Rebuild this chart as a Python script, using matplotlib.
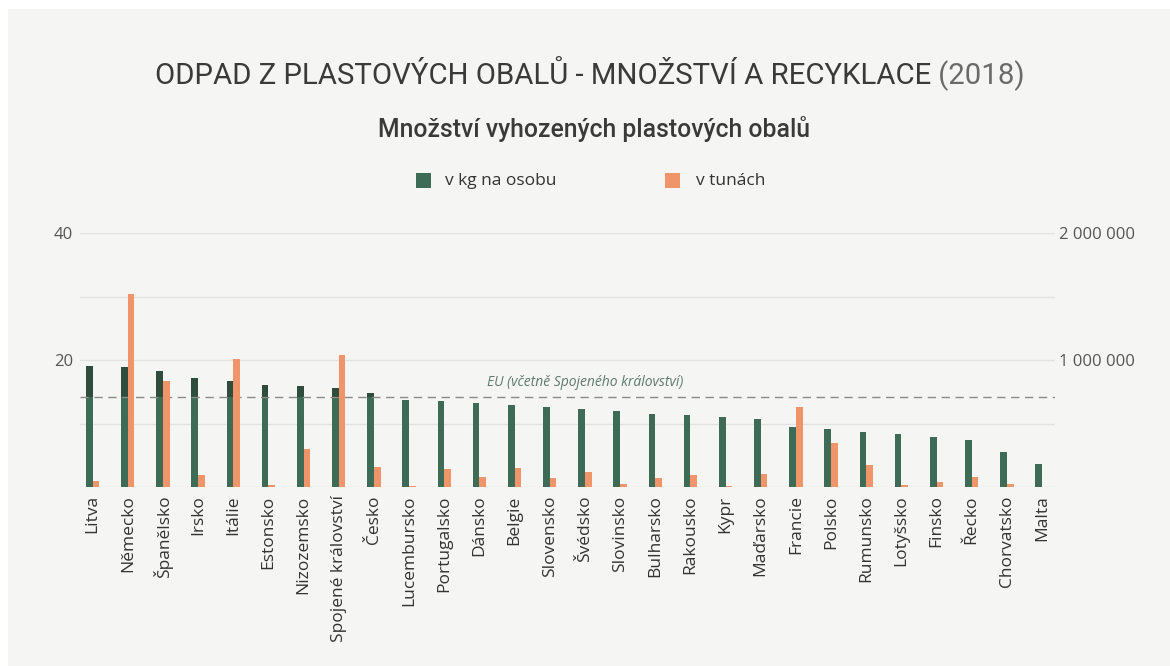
import matplotlib.pyplot as plt
import matplotlib.patches as mpatches
import numpy as np

countries = ['Litva', 'Německo', 'Španělsko', 'Irsko', 'Itálie', 'Estonsko', 'Nizozemsko',
             'Spojené království', 'Česko', 'Lucembursko', 'Portugalsko', 'Dánsko', 'Belgie',
             'Slovensko', 'Švédsko', 'Slovinsko', 'Bulharsko', 'Rakousko', 'Kypr', 'Maďarsko',
             'Francie', 'Polsko', 'Rumunsko', 'Lotyšsko', 'Finsko', 'Řecko', 'Chorvatsko', 'Malta']
kg_per_person = [19.05, 18.85, 18.2, 17.1, 16.75, 16.0, 15.9, 15.6, 14.8, 13.7, 13.5, 13.3, 12.85,
                 12.65, 12.35, 11.9, 11.5, 11.3, 11.1, 10.65, 9.45, 9.1, 8.7, 8.3, 7.8, 7.4, 5.45, 3.55]
tonnes = [47000, 1520000, 837000, 92000, 1010000, 16000, 297000, 1037000, 155000, 8000, 139000,
          76000, 147000, 68000, 118000, 21000, 73000, 97000, 10000, 105000, 630000, 349000,
          173000, 13000, 39000, 81000, 24000, 1500]
eu_avg = 14.1

green = '#3d6b55'
green_dark = '#2e4d3c'
orange = '#f0956a'
bg = '#f5f5f3'

fig = plt.figure(figsize=(11.7, 6.66), dpi=100)
fig.patch.set_facecolor('white')
fig.patches.append(mpatches.Rectangle((8 / 1170, 0), 1, 1 - 9 / 666, transform=fig.transFigure,
                                      facecolor=bg, edgecolor='none', zorder=-10))

ax = fig.add_axes([80 / 1170, 179 / 666, 975 / 1170, 254 / 666])
ax.set_facecolor('none')
ax2 = ax.twinx()

x = np.arange(len(countries))
w = 0.19
kg = np.array(kg_per_person)
low = np.minimum(kg, eu_avg)
high = np.maximum(kg - eu_avg, 0)
ax.bar(x - w / 2, low, width=w, color=green, zorder=3)
ax.bar(x - w / 2, high, width=w, bottom=eu_avg, color=green_dark, zorder=3)
ax2.bar(x + w / 2, tonnes, width=w, color=orange, zorder=3)

ax.set_xlim(-0.36, 27.37)
ax.set_ylim(0, 40)
ax2.set_ylim(0, 2000000)

for g in [0, 10, 20, 30, 40]:
    ax.axhline(g, color='#e2e2e0', lw=1, zorder=0)
ax.axhline(eu_avg, color='#8a8a8a', lw=1, ls=(0, (6, 4)), zorder=4)
ax.text(14.0, eu_avg + 1.2, 'EU (včetně Spojeného království)', ha='center', va='bottom',
        fontsize=10, style='italic', color='#5f7b6d', family='Open Sans')

ax.set_yticks([20, 40])
ax.set_yticklabels(['20', '40'])
ax2.set_yticks([1000000, 2000000])
ax2.set_yticklabels(['1 000 000', '2 000 000'])
ax.set_xticks(x)
ax.set_xticklabels(countries, rotation=90, fontsize=12.5, color='#333333', family='Open Sans')
for a in (ax, ax2):
    for s in a.spines.values():
        s.set_visible(False)
    a.tick_params(length=0)
ax.tick_params(axis='y', labelsize=12, labelcolor='#555555', pad=5)
ax2.tick_params(axis='y', labelsize=12, labelcolor='#555555', pad=3)
ax.tick_params(axis='x', pad=6)
for t in ax.get_yticklabels() + ax2.get_yticklabels():
    t.set_family('Open Sans')

# title: main part + lighter year
title = fig.text(155 / 1170, 1 - 76 / 666, 'ODPAD Z PLASTOVÝCH OBALŮ - MNOŽSTVÍ A RECYKLACE',
                 ha='left', va='center', fontsize=21.2, color='#3a3a3a', family='Roboto')
fig.canvas.draw()
bb = title.get_window_extent().transformed(fig.transFigure.inverted())
fig.text(bb.x1, 1 - 76 / 666, ' (2018)', ha='left', va='center', fontsize=21.2, color='#6a6a6a',
         family='Roboto')
fig.text(594 / 1170, 1 - 129 / 666, 'Množství vyhozených plastových obalů', ha='center', va='center',
         fontsize=17.8, color='#3a3a3a', family='Roboto', fontweight='medium')

fig.patches.append(mpatches.Rectangle((416 / 1170, 1 - 188 / 666), 15 / 1170, 15 / 666,
                                      transform=fig.transFigure, facecolor=green, edgecolor='none'))
fig.text(445 / 1170, 1 - 181 / 666, 'v kg na osobu', ha='left', va='center', fontsize=12.5,
         color='#333333', family='Open Sans')
fig.patches.append(mpatches.Rectangle((665 / 1170, 1 - 188 / 666), 15 / 1170, 15 / 666,
                                      transform=fig.transFigure, facecolor=orange, edgecolor='none'))
fig.text(696 / 1170, 1 - 181 / 666, 'v tunách', ha='left', va='center', fontsize=12.5,
         color='#333333', family='Open Sans')

fig.savefig('out.png', dpi=100, facecolor=fig.get_facecolor())
